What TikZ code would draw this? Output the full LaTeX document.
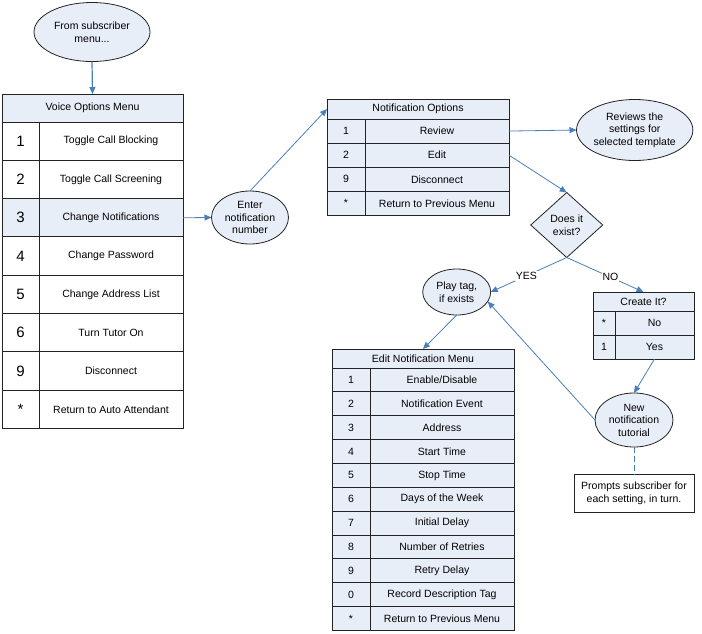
\documentclass[tikz,border=0pt]{standalone}
\usepackage{fontspec}
\setmainfont{Liberation Sans}
\usetikzlibrary{arrows.meta,shapes.geometric}
\definecolor{cellblue}{RGB}{232,238,247}
\definecolor{linkblue}{RGB}{74,126,187}
\definecolor{edgegray}{RGB}{35,35,35}
\begin{document}
\begin{tikzpicture}[x=1pt,y=-1pt,
  every node/.style={font=\fontsize{10.5}{12.5}\selectfont, inner sep=0pt, outer sep=0pt},
  cell/.style={draw=edgegray, line width=0.9pt, fill=cellblue, minimum height=24pt},
  bubble/.style={ellipse, draw=edgegray, line width=0.8pt, fill=cellblue, align=center},
  link/.style={draw=linkblue, line width=0.8pt, -{Triangle[length=7pt,width=6pt]}},
  lab/.style={fill=white, inner sep=1pt}]
\useasboundingbox (0,0) rectangle (702,633);

% ---------- start ellipse ----------
\node[bubble, minimum width=116pt, minimum height=59pt] (from) at (92,32) {From subscriber\\menu...};

% ---------- Voice Options Menu ----------
\node[cell, minimum width=181pt, minimum height=28pt] (vh) at (92.5,108) {Voice Options Menu};
\foreach \i/\n/\t/\f in {1/1/Toggle Call Blocking/white,2/2/Toggle Call Screening/white,3/3/Change Notifications/cellblue,4/4/Change Password/white,5/5/Change Address List/white,6/6/Turn Tutor On/white,7/9/Disconnect/white,8/*/Return to Auto Attendant/white}{
  \node[cell, fill=\f, minimum width=37pt, minimum height=38.3pt, font=\fontsize{15}{18}\selectfont] (vn\i) at (20.5,{122+38.3*(\i-0.5)}) {\n};
  \node[cell, fill=\f, minimum width=144pt, minimum height=38.3pt] (vt\i) at (111,{122+38.3*(\i-0.5)}) {\t};
}

% ---------- Enter notification number ----------
\node[bubble, minimum width=77pt, minimum height=53pt] (enter) at (250,217.5) {Enter\\notification\\number};

% ---------- Notification Options ----------
\node[cell, minimum width=182pt, minimum height=20pt] (nh) at (418,109) {Notification Options};
\foreach \i/\n/\t in {1/1/Review,2/2/Edit,3/9/Disconnect,4/*/Return to Previous Menu}{
  \node[cell, minimum width=38pt, minimum height=24.1pt] (nn\i) at (346,{119+24.1*(\i-0.5)}) {\n};
  \node[cell, minimum width=144pt, minimum height=24.1pt] (nt\i) at (437,{119+24.1*(\i-0.5)}) {\t};
}

% ---------- Reviews ----------
\node[bubble, minimum width=96pt, minimum height=61pt] (reviews) at (634.7,130) {Reviews the\\settings for\\selected template};

% ---------- Decision ----------
\node[diamond, draw=edgegray, line width=0.8pt, fill=cellblue, align=center, minimum width=72pt, minimum height=65pt] (exist) at (566.7,225) {Does it\\exist?};

% ---------- Play tag ----------
\node[bubble, minimum width=68pt, minimum height=46pt] (play) at (456.7,292) {Play tag,\\if exists};

% ---------- Create It? ----------
\node[cell, minimum width=101pt, minimum height=19pt] (ch) at (643.5,301.5) {Create It?};
\foreach \i/\n/\t in {1/*/No,2/1/Yes}{
  \node[cell, minimum width=22pt, minimum height=24pt] (cn\i) at (604,{311+24*(\i-0.5)}) {\n};
  \node[cell, minimum width=79pt, minimum height=24pt] (ct\i) at (654.5,{311+24*(\i-0.5)}) {\t};
}

% ---------- New notification tutorial ----------
\node[bubble, minimum width=78pt, minimum height=54pt] (tut) at (634,420) {New\\notification\\tutorial};

% ---------- Prompts ----------
\node[draw=edgegray, line width=0.8pt, fill=white, align=center, minimum width=120pt, minimum height=38pt] (prompts) at (634,493.3) {Prompts subscriber for\\each setting, in turn.};

% ---------- Edit Notification Menu ----------
\node[cell, minimum width=182pt, minimum height=19pt] (eh) at (423,358.5) {Edit Notification Menu};
\foreach \i/\n/\t in {1/1/{Enable/Disable},2/2/Notification Event,3/3/Address,4/4/Start Time,5/5/Stop Time,6/6/Days of the Week,7/7/Initial Delay,8/8/Number of Retries,9/9/Retry Delay,10/0/Record Description Tag,11/*/Return to Previous Menu}{
  \node[cell, minimum width=38pt, minimum height=23.85pt] (en\i) at (351,{368+23.85*(\i-0.5)}) {\n};
  \node[cell, minimum width=144pt, minimum height=23.85pt] (et\i) at (442,{368+23.85*(\i-0.5)}) {\t};
}

% ---------- connectors ----------
\draw[link, line width=1.2pt] (from.south) -- (vh.north);
\draw[link] (vt3.east) -- (enter.west);
\draw[link] (enter.north) -- (nh.west);
\draw[link] (nt1.east) -- (reviews.west);
\draw[link] (nt2.east) -- (exist.north);
\draw[link] (exist.south) -- node[lab, pos=0.53] {YES} (play.east);
\draw[link] (exist.south) -- node[lab, pos=0.57] {NO} (ch.north);
\draw[link] (ct2.south) -- (tut.north);
\draw[link] (tut.west) -- (play.-17);
\draw[link] (play.south) -- (eh.north);
\draw[draw=linkblue, line width=0.9pt, dash pattern=on 6pt off 3pt] (tut.south) -- (prompts.north);
\end{tikzpicture}
\end{document}
